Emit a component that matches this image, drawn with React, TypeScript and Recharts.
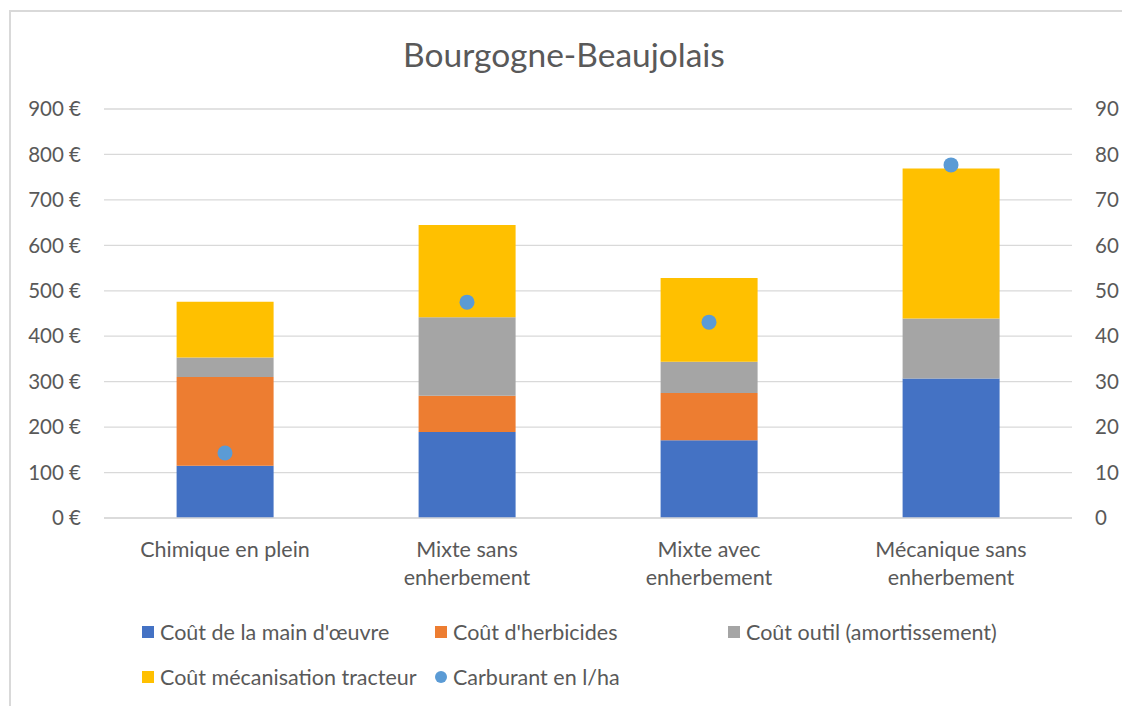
import { Bar, CartesianGrid, ComposedChart, Line, XAxis, YAxis } from "recharts"

// Categories (x axis), line breaks as in the original labels
const categories = [
  "Chimique en plein",
  "Mixte sans\nenherbement",
  "Mixte avec\nenherbement",
  "Mécanique sans\nenherbement",
]

// Stacked costs in €/ha
const mainOeuvre = [115, 189, 171, 307]
const herbicides = [195, 80, 104, 0]
const outil = [43, 173, 69, 132]
const mecanisation = [123, 203, 184, 330]

// Fuel in l/ha (right axis)
const carburant = [14.3, 47.5, 43.1, 77.7]

const leftTicks = [0, 100, 200, 300, 400, 500, 600, 700, 800, 900]
const rightTicks = [0, 10, 20, 30, 40, 50, 60, 70, 80, 90]

const series = [
  { key: "mainOeuvre", name: "Coût de la main d'œuvre", color: "#4472C4", shape: "square" },
  { key: "herbicides", name: "Coût d'herbicides", color: "#ED7D31", shape: "square" },
  { key: "outil", name: "Coût outil (amortissement)", color: "#A5A5A5", shape: "square" },
  { key: "mecanisation", name: "Coût mécanisation tracteur", color: "#FFC000", shape: "square" },
  { key: "carburant", name: "Carburant en l/ha", color: "#5B9BD5", shape: "circle" },
]

const data = categories.map((name, i) => ({
  name,
  mainOeuvre: mainOeuvre[i],
  herbicides: herbicides[i],
  outil: outil[i],
  mecanisation: mecanisation[i],
  carburant: carburant[i],
}))

const FONT = "Lato, 'Open Sans', sans-serif"
const TEXT = "#595959"
const GRID = "#d9d9d9"

function CategoryTick({ x, y, payload }: any) {
  const lines = String(payload.value).split("\n")
  return (
    <text x={x} y={y} textAnchor="middle" fill={TEXT} fontSize={21.5} fontFamily={FONT}>
      {lines.map((line, i) => (
        <tspan key={i} x={x} dy={i === 0 ? 39 : 28}>
          {line}
        </tspan>
      ))}
    </text>
  )
}

function ChartLegend() {
  return (
    <div
      style={{
        position: "absolute",
        left: 142,
        top: 609.5,
        display: "grid",
        gridTemplateColumns: "293px 293px 293px",
        gridAutoRows: "45px",
        fontFamily: FONT,
        fontSize: 21.5,
        color: TEXT,
      }}
    >
      {series.map((s) => (
        <div key={s.key} style={{ display: "flex", alignItems: "center", whiteSpace: "nowrap" }}>
          <span
            style={{
              width: 12,
              height: 12,
              background: s.color,
              borderRadius: s.shape === "circle" ? "50%" : 0,
              marginRight: 6,
              flex: "none",
            }}
          />
          {s.name}
        </div>
      ))}
    </div>
  )
}

export default function App() {
  return (
    <div style={{ position: "absolute", left: 0, top: 0, width: 1122, height: 706, background: "#fff", overflow: "hidden" }}>
      {/* chart frame */}
      <div style={{ position: "absolute", left: 9, top: 10, right: -10, bottom: -10, borderTop: `2px solid ${GRID}`, borderLeft: `2px solid ${GRID}` }} />

      <svg width={1122} height={90} style={{ position: "absolute", left: 0, top: 0 }}>
        <text x={564} y={67} textAnchor="middle" fill={TEXT} fontSize={33.5} fontFamily={FONT}>
          Bourgogne-Beaujolais
        </text>
      </svg>

      <div style={{ position: "absolute", left: 0, top: 0 }}>
        <ComposedChart
          width={1122}
          height={706}
          data={data}
          margin={{ top: 109, right: 0, bottom: 0, left: 0 }}
          barCategoryGap="30%"
        >
          <CartesianGrid yAxisId="left" vertical={false} stroke={GRID} strokeWidth={1.3} />
          <XAxis
            dataKey="name"
            height={188}
            tickLine={false}
            tickSize={0}
            tickMargin={0}
            axisLine={{ stroke: GRID, strokeWidth: 1.3 }}
            tick={<CategoryTick />}
            interval={0}
          />
          <YAxis
            yAxisId="left"
            width={104}
            domain={[0, 900]}
            ticks={leftTicks}
            tickFormatter={(v) => `${v} €`}
            axisLine={false}
            tickLine={false}
            tickSize={0}
            tickMargin={23}
            tick={{ fill: TEXT, fontSize: 20.5, fontFamily: FONT }}
          />
          <YAxis
            yAxisId="right"
            orientation="right"
            width={50}
            domain={[0, 90]}
            ticks={rightTicks}
            axisLine={false}
            tickLine={false}
            tickSize={0}
            tickMargin={23}
            tick={{ fill: TEXT, fontSize: 20.5, fontFamily: FONT }}
          />
          {series
            .filter((s) => s.shape === "square")
            .map((s) => (
              <Bar
                key={s.key}
                yAxisId="left"
                dataKey={s.key}
                name={s.name}
                stackId="cost"
                fill={s.color}
                isAnimationActive={false}
              />
            ))}
          <Line
            yAxisId="right"
            dataKey="carburant"
            name="Carburant en l/ha"
            stroke="none"
            dot={{ r: 7.5, fill: "#5B9BD5", stroke: "none" }}
            activeDot={false}
            isAnimationActive={false}
          />
        </ComposedChart>
      </div>

      <ChartLegend />
    </div>
  )
}
